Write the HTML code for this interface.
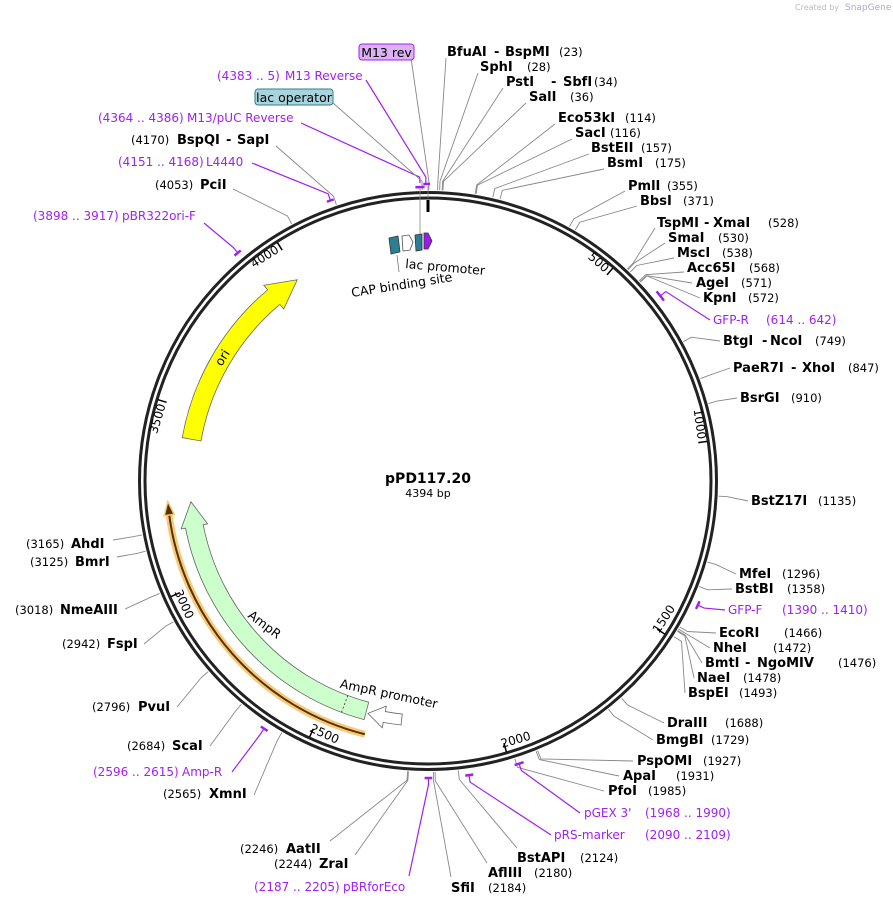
<!DOCTYPE html>
<html><head><meta charset="utf-8"><style>
html,body{margin:0;padding:0;background:#fff;}
svg{display:block;}
text{font-family:"DejaVu Sans","Liberation Sans",sans-serif;}
.n{font-weight:bold;font-size:13px;fill:#000;}
.c{font-size:11.5px;fill:#000;}
.p{font-size:12px;fill:#a020f0;}
.tk{font-size:12px;fill:#000;}
</style></head><body>
<svg id="s" width="893" height="905" viewBox="0 0 893 905" xmlns="http://www.w3.org/2000/svg">
<text x="795" y="10" style="font-size:8px;fill:#bbb">Created by</text><text x="845" y="10" style="font-size:9px;fill:#aac">SnapGene</text>
<g id="lines"></g>
<circle cx="428" cy="481" r="288.5" fill="none" stroke="#222" stroke-width="3"/>
<circle cx="428" cy="481" r="283" fill="none" stroke="#222" stroke-width="3"/>
<g id="feat"></g>
<g id="ticks"></g>
<text class="tk">500</text><text class="tk">1000</text><text class="tk">1500</text><text class="tk">2000</text>
<text class="tk">2500</text><text class="tk">3000</text><text class="tk">3500</text><text class="tk">4000</text>
<polygon points="389,238 398,236 400,252 391,254" fill="#2c7f93" stroke="#333" stroke-width="0.8"/>
<polygon points="402,236 409,235 413,242 410,250 403,251" fill="#fff" stroke="#555" stroke-width="0.8"/>
<polygon points="415,235 422,234 422,250 416,251" fill="#2c7f93" stroke="#333" stroke-width="0.8"/>
<polygon points="424,233 428,233 432,241 428,249 424,249" fill="#9a1ee8" stroke="#333" stroke-width="0.8"/>
<line x1="397" y1="255" x2="399" y2="272" stroke="#777" stroke-width="0.8"/>
<line x1="420" y1="188" x2="420" y2="234" stroke="#888" stroke-width="0.8"/>
<line x1="428" y1="186" x2="428" y2="198" stroke="#888" stroke-width="0.8"/>
<text x="405" y="268" transform="rotate(5 405 268)" style="font-size:12.5px">lac promoter</text>
<text x="352" y="297" transform="rotate(-9 352 297)" style="font-size:12.5px">CAP binding site</text>
<text x="428" y="483" text-anchor="middle" style="font-weight:bold;font-size:14px">pPD117.20</text>
<text x="428" y="497" text-anchor="middle" style="font-size:11px">4394 bp</text>
<text x="226" y="360" transform="rotate(-58 226 360)" text-anchor="middle" style="font-size:12.5px">ori</text>
<text x="262" y="628" transform="rotate(37 262 628)" text-anchor="middle" style="font-size:12.5px">AmpR</text>
<text x="388" y="698" transform="rotate(12 388 698)" text-anchor="middle" style="font-size:12.5px">AmpR promoter</text>

<rect x="359" y="44" width="55" height="16" rx="3" fill="#dcb2f5" stroke="#a020f0"/>
<text x="386.5" y="57" text-anchor="middle" style="font-size:12.5px">M13 rev</text>
<rect x="255" y="89" width="78" height="16" rx="3" fill="#a8d4dc" stroke="#2c7f93"/>
<text x="294" y="102" text-anchor="middle" style="font-size:12.5px">lac operator</text>

<text class="n" x="447" y="56">BfuAI</text><text class="n" x="494" y="56">-</text><text class="n" x="505" y="56">BspMI</text><text class="c" x="559" y="56">(23)</text>
<text class="n" x="480" y="71">SphI</text><text class="c" x="527" y="71">(28)</text>
<text class="n" x="506" y="86">PstI</text><text class="n" x="551" y="86">-</text><text class="n" x="563" y="86">SbfI</text><text class="c" x="594" y="86">(34)</text>
<text class="n" x="529" y="101">SalI</text><text class="c" x="570" y="101">(36)</text>
<text class="n" x="558" y="122">Eco53kI</text><text class="c" x="625" y="122">(114)</text>
<text class="n" x="575" y="137">SacI</text><text class="c" x="610" y="137">(116)</text>
<text class="n" x="591" y="152">BstEII</text><text class="c" x="641" y="152">(157)</text>
<text class="n" x="607" y="167">BsmI</text><text class="c" x="655" y="167">(175)</text>
<text class="n" x="628" y="190">PmlI</text><text class="c" x="667" y="190">(355)</text>
<text class="n" x="640" y="205">BbsI</text><text class="c" x="683" y="205">(371)</text>
<text class="n" x="657" y="227">TspMI</text><text class="n" x="704" y="227">-</text><text class="n" x="713" y="227">XmaI</text><text class="c" x="768" y="227">(528)</text>
<text class="n" x="668" y="242">SmaI</text><text class="c" x="718" y="242">(530)</text>
<text class="n" x="677" y="257">MscI</text><text class="c" x="722" y="257">(538)</text>
<text class="n" x="687" y="272">Acc65I</text><text class="c" x="749" y="272">(568)</text>
<text class="n" x="696" y="287">AgeI</text><text class="c" x="741" y="287">(571)</text>
<text class="n" x="703" y="302">KpnI</text><text class="c" x="748" y="302">(572)</text>
<text class="p" x="713" y="324">GFP-R</text><text class="p" x="766" y="324">(614 .. 642)</text>
<text class="n" x="723" y="345">BtgI</text><text class="n" x="762" y="345">-</text><text class="n" x="770" y="345">NcoI</text><text class="c" x="815" y="345">(749)</text>
<text class="n" x="733" y="372">PaeR7I</text><text class="n" x="791" y="372">-</text><text class="n" x="802" y="372">XhoI</text><text class="c" x="848" y="372">(847)</text>
<text class="n" x="740" y="402">BsrGI</text><text class="c" x="791" y="402">(910)</text>
<text class="n" x="751" y="505">BstZ17I</text><text class="c" x="818" y="505">(1135)</text>
<text class="n" x="739" y="578">MfeI</text><text class="c" x="782" y="578">(1296)</text>
<text class="n" x="735" y="593">BstBI</text><text class="c" x="787" y="593">(1358)</text>
<text class="p" x="728" y="614">GFP-F</text><text class="p" x="782" y="614">(1390 .. 1410)</text>
<text class="n" x="719" y="637">EcoRI</text><text class="c" x="784" y="637">(1466)</text>
<text class="n" x="713" y="652">NheI</text><text class="c" x="773" y="652">(1472)</text>
<text class="n" x="705" y="667">BmtI</text><text class="n" x="745" y="667">-</text><text class="n" x="757" y="667">NgoMIV</text><text class="c" x="838" y="667">(1476)</text>
<text class="n" x="697" y="682">NaeI</text><text class="c" x="743" y="682">(1478)</text>
<text class="n" x="688" y="697">BspEI</text><text class="c" x="739" y="697">(1493)</text>
<text class="n" x="667" y="727">DraIII</text><text class="c" x="725" y="727">(1688)</text>
<text class="n" x="656" y="744">BmgBI</text><text class="c" x="711" y="744">(1729)</text>
<text class="n" x="637" y="765">PspOMI</text><text class="c" x="703" y="765">(1927)</text>
<text class="n" x="623" y="780">ApaI</text><text class="c" x="676" y="780">(1931)</text>
<text class="n" x="608" y="795">PfoI</text><text class="c" x="648" y="795">(1985)</text>
<text class="p" x="584" y="817">pGEX 3'</text><text class="p" x="645" y="817">(1968 .. 1990)</text>
<text class="p" x="554" y="839">pRS-marker</text><text class="p" x="645" y="839">(2090 .. 2109)</text>
<text class="n" x="517" y="862">BstAPI</text><text class="c" x="580" y="862">(2124)</text>
<text class="n" x="488" y="877">AflIII</text><text class="c" x="534" y="877">(2180)</text>
<text class="n" x="451" y="892">SfiI</text><text class="c" x="488" y="892">(2184)</text>
<text class="p" x="254" y="891">(2187 .. 2205)</text><text class="p" x="343" y="891">pBRforEco</text>
<text class="c" x="274" y="868">(2244)</text><text class="n" x="319" y="868">ZraI</text>
<text class="c" x="240" y="853">(2246)</text><text class="n" x="286" y="853">AatII</text>
<text class="c" x="163" y="798">(2565)</text><text class="n" x="209" y="798">XmnI</text>
<text class="p" x="93" y="776">(2596 .. 2615)</text><text class="p" x="182" y="776">Amp-R</text>
<text class="c" x="127" y="750">(2684)</text><text class="n" x="172" y="750">ScaI</text>
<text class="c" x="92" y="711">(2796)</text><text class="n" x="138" y="711">PvuI</text>
<text class="c" x="62" y="648">(2942)</text><text class="n" x="107" y="648">FspI</text>
<text class="c" x="15" y="614">(3018)</text><text class="n" x="60" y="614">NmeAIII</text>
<text class="c" x="30" y="566">(3125)</text><text class="n" x="75" y="566">BmrI</text>
<text class="c" x="26" y="548">(3165)</text><text class="n" x="71" y="548">AhdI</text>
<text class="p" x="33" y="220">(3898 .. 3917)</text><text class="p" x="122" y="220">pBR322ori-F</text>
<text class="c" x="155" y="189">(4053)</text><text class="n" x="200" y="189">PciI</text>
<text class="p" x="118" y="166">(4151 .. 4168)</text><text class="p" x="206" y="166">L4440</text>
<text class="c" x="131" y="144">(4170)</text><text class="n" x="177" y="144">BspQI</text><text class="n" x="226" y="144">-</text><text class="n" x="237" y="144">SapI</text>
<text class="p" x="98" y="122">(4364 .. 4386)</text><text class="p" x="187" y="122">M13/pUC Reverse</text>
<text class="p" x="217" y="80">(4383 .. 5)</text><text class="p" x="285" y="80">M13 Reverse</text>
</svg>
<script>
(function(){
var CX=428,CY=481,N=4394,NS="http://www.w3.org/2000/svg";
function P(r,a){var t=a*Math.PI/180;return [CX+r*Math.sin(t),CY-r*Math.cos(t)];}
function A(bp){return bp/N*360;}
function el(tag,at,par){var e=document.createElementNS(NS,tag);for(var k in at)e.setAttribute(k,at[k]);(par||document.getElementById('s')).appendChild(e);return e;}
var L=document.getElementById('lines');
var lines=[[23,446,58],[28,478,73],[34,503,88],[36,526,103],[114,555,124],[116,572,139],[157,589,154],[175,604,169],
[355,625,191],[371,637,206],[528,655,228],[530,665,243],[538,674,258],[568,684,272],[571,692,283],[572,700,298],
[628,710,320,1],[749,720,341],[847,730,368],[910,737,398],[1135,748,501],[1296,736,574],[1358,732,589],[1400,725,610,1],
[1466,716,633],[1472,710,648],[1476,702,663],[1478,694,678],[1493,685,693],[1688,664,723],[1729,653,740],
[1927,633,761],[1931,619,776],[1985,604,791],[1979,580,813,1],[2100,551,835,1],[2124,517,848],[2180,487,863],[2184,451,877],
[2196,409,876,1],[2244,355,855],[2246,330,841],[2565,254,795],[2606,232,772,1],[2684,210,746],[2796,177,707],[2942,144,644],
[3018,125,609],[3125,117,557],[3165,113,540],[3908,204,223,1],[4053,233,189],[4160,252,163,1],[4170,276,146],[4375,301,123,1],
[4380,333,103],[4389,366,80,1],[2,411,58]];
lines.forEach(function(l){var a=A(l[0]),p1=P(l[3]?298:291,a),p2=P(l[3]?304:300,a);
 el('polyline',{points:p1.join(',')+' '+p2.join(',')+' '+l[1]+','+l[2],fill:'none',stroke:l[3]?'#a020f0':'#888','stroke-width':l[3]?1.2:0.9},L);});
var pr=[[4383,4399],[4364,4386],[4151,4168],[3898,3917],[614,642],[1390,1410],[1968,1990],[2090,2109],[2187,2205],[2596,2615]];
pr.forEach(function(q){var a1=A(q[0]),a2=A(q[1]),r=q[0]==4364?294:297;var s=P(r,a1),e=P(r,a2);
 el('path',{d:'M'+s+' A'+r+','+r+' 0 0 1 '+e,fill:'none',stroke:'#a020f0','stroke-width':2.5},L);});
var F=document.getElementById('feat');
function arrowCW(rc,w,hw,a1,a2,hl){
 var ah=a2-hl,r1=rc-w/2,r2=rc+w/2;var p=P(r2,a1),q=P(r2,ah),h1=P(rc+hw/2,ah),tip=P(rc,a2),h2=P(rc-hw/2,ah),s=P(r1,ah),t=P(r1,a1);
 return 'M'+p+' A'+r2+','+r2+' 0 0 1 '+q+' L'+h1+' L'+tip+' L'+h2+' L'+s+' A'+r1+','+r1+' 0 0 0 '+t+' Z';}
el('path',{d:arrowCW(240,19,31,280,327,7),fill:'#ffff00',stroke:'#666','stroke-width':0.8},F);
el('path',{d:arrowCW(238,18,27,195,265,6),fill:'#ccffcc',stroke:'#666','stroke-width':0.8},F);
var d1=P(229,200.5),d2=P(247,200.5);el('line',{x1:d1[0],y1:d1[1],x2:d2[0],y2:d2[1],stroke:'#333','stroke-width':0.8,'stroke-dasharray':'2,2'},F);
el('path',{d:arrowCW(240,11,22,186.3,194.5,4),fill:'#fff',stroke:'#666','stroke-width':0.8},F);
var o1=P(261,194),o2=P(261,263);
el('path',{d:'M'+o1+' A261,261 0 0 1 '+o2,fill:'none',stroke:'#f9c97a','stroke-width':7},F);
el('path',{d:'M'+o1+' A261,261 0 0 1 '+o2,fill:'none',stroke:'#553300','stroke-width':2},F);
var ot=P(261,265.5),oa=P(266,262.5),ob=P(256,262.5);
el('polygon',{points:oa+' '+ot+' '+ob,fill:'#553300',stroke:'#f9c97a','stroke-width':1.5},F);
var T=document.getElementById('ticks');
var o=P(281,0),o2b=P(269,0);el('line',{x1:o[0],y1:o[1],x2:o2b[0],y2:o2b[1],stroke:'#000','stroke-width':3},T);
for(var b=500;b<N;b+=500){var a=A(b),t1=P(282,a),t2=P(273,a);
 el('line',{x1:t1[0],y1:t1[1],x2:t2[0],y2:t2[1],stroke:'#000','stroke-width':1.5},T);}
var tl=document.querySelectorAll('text.tk');
tl.forEach(function(e){var b=+e.textContent,a=A(b),flip=(a>90&&a<270),rot,r,off;
 if(flip){rot=a-180;r=277;off=3;e.setAttribute('text-anchor','start');}
 else{rot=a;r=273;off=-3;e.setAttribute('text-anchor','end');}
 var p=P(r,a+off/r*180/Math.PI);
 e.setAttribute('x',p[0]);e.setAttribute('y',p[1]);e.setAttribute('transform','rotate('+rot+' '+p[0]+' '+p[1]+')');});
})();
</script>
</body></html>
